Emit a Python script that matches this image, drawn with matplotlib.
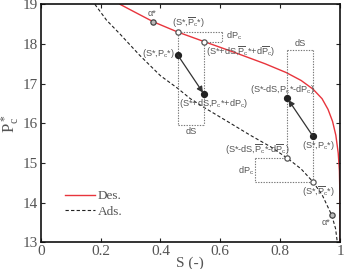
import matplotlib
matplotlib.use("Agg")
import matplotlib.pyplot as plt

# ---- data ----
des_S = [0.265, 0.30, 0.376, 0.458, 0.546, 0.65, 0.75, 0.82, 0.87, 0.91, 0.94,
         0.96, 0.975, 0.986, 0.994, 0.998, 1.0, 1.0]
des_P = [19.0, 18.86, 18.56, 18.30, 18.06, 17.78, 17.50, 17.28, 17.08, 16.86, 16.62,
         16.35, 16.05, 15.70, 15.25, 14.80, 14.0, 13.0]
ads_S = [0.181, 0.22, 0.265, 0.33, 0.40, 0.458, 0.50, 0.55, 0.621, 0.70, 0.77,
         0.824, 0.87, 0.909, 0.94, 0.972, 0.985, 0.991]
ads_P = [19.0, 18.6, 18.25, 17.72, 17.20, 16.88, 16.62, 16.38, 16.06, 15.70, 15.40,
         15.12, 14.85, 14.53, 14.20, 13.69, 13.35, 13.0]

alpha_S = [0.376, 0.972]
alpha_P = [18.56, 13.69]
open_S = [0.458, 0.546, 0.824, 0.909]
open_P = [18.30, 18.06, 15.12, 14.53]
arrow_start_S = [0.458, 0.909]
arrow_start_P = [17.72, 15.68]
arrow_end_S = [0.546, 0.824]
arrow_end_P = [16.73, 16.63]

dS_left_bottom = 15.95
dS_right_top = 17.85
dP_upper_right = 0.607
dP_lower_left = 0.716

xticks = [0, 0.2, 0.4, 0.6, 0.8, 1]
xticklabels = ["0", "0.2", "0.4", "0.6", "0.8", "1"]
yticks = [13, 14, 15, 16, 17, 18, 19]

fig = plt.figure(figsize=(3.46, 2.69), dpi=100)
ax = fig.add_axes([0.1176, 0.0993, 0.8651, 0.8847])

red = "#e8343c"
gray = "#555555"
dot = dict(color="#777777", lw=0.8, ls=(0, (1.2, 1.2)))

ax.plot(des_S, des_P, color=red, lw=1.0, label="Des.")
ax.plot(ads_S, ads_P, color="#222222", lw=0.8, ls=(0, (3, 2)), label="Ads.")

# dotted construction lines
ax.plot([open_S[0], open_S[0]], [open_P[0], dS_left_bottom], **dot)
ax.plot([open_S[1], open_S[1]], [open_P[1], dS_left_bottom], **dot)
ax.plot([open_S[0], open_S[1]], [dS_left_bottom, dS_left_bottom], **dot)
ax.plot([open_S[0], dP_upper_right], [open_P[0], open_P[0]], **dot)
ax.plot([dP_upper_right, dP_upper_right], [open_P[0], open_P[1]], **dot)
ax.plot([open_S[1], dP_upper_right], [open_P[1], open_P[1]], **dot)
ax.plot([open_S[2], open_S[2]], [dS_right_top, open_P[2]], **dot)
ax.plot([open_S[3], open_S[3]], [dS_right_top, open_P[3]], **dot)
ax.plot([open_S[2], open_S[3]], [dS_right_top, dS_right_top], **dot)
ax.plot([dP_lower_left, open_S[2]], [open_P[2], open_P[2]], **dot)
ax.plot([dP_lower_left, dP_lower_left], [open_P[2], open_P[3]], **dot)
ax.plot([dP_lower_left, open_S[3]], [open_P[3], open_P[3]], **dot)

# arrows
for xs, ys, xe, ye in zip(arrow_start_S, arrow_start_P, arrow_end_S, arrow_end_P):
    ax.annotate("", xy=(xe, ye), xytext=(xs, ys),
                arrowprops=dict(arrowstyle="-|>,head_length=0.35,head_width=0.18",
                                color="#333333", lw=0.9, shrinkA=0, shrinkB=1.5))
    ax.plot([xs, xe], [ys, ye], ls="none", marker="o", ms=4.2, color="#222222")

ax.plot(open_S, open_P, ls="none", marker="o", ms=3.8, mfc="white", mec=gray, mew=0.9)
ax.plot(alpha_S, alpha_P, ls="none", marker="o", ms=3.8, mfc="#bbbbbb", mec="#444444", mew=0.9)

# annotations
tfont = dict(family="Liberation Sans", size=6.6, color=gray, ha="center", va="center")
Pc = r"P$_\mathregular{c}$"
Pb = r"$\mathregular{\overline{P}_c}$"
dPb = r"d$\mathregular{\overline{P}_c}$"
ax.text(0.371, 18.78, "α*", **tfont)
ax.text(0.953, 13.50, "α*", **tfont)
ax.text(0.493, 18.54, "(S*," + Pb + "*)", **tfont)
ax.text(0.668, 17.81, "(S*+dS," + Pb + "*+" + dPb + ")", **tfont)
ax.text(0.645, 18.21, "d" + Pc, **tfont)
ax.text(0.393, 17.76, "(S*," + Pc + "*)", **tfont)
ax.text(0.577, 16.50, "(S*+dS," + Pc + "*+d" + Pc + ")", **tfont)
ax.text(0.504, 15.79, "dS", **tfont)
ax.text(0.866, 18.00, "dS", **tfont)
ax.text(0.808, 16.86, "(S*-dS," + Pc + "*-d" + Pc + ")", **tfont)
ax.text(0.928, 15.44, "(S*," + Pc + "*)", **tfont)
ax.text(0.724, 15.34, "(S*-dS," + Pb + "*-" + dPb + ")", **tfont)
ax.text(0.686, 14.81, "d" + Pc, **tfont)
ax.text(0.928, 14.28, "(S*," + Pb + "*)", **tfont)

ax.set_xlim(0, 1)
ax.set_ylim(13, 19)
ax.set_xticks(xticks)
ax.set_xticklabels(xticklabels)
ax.set_yticks(yticks)
ax.tick_params(direction="in", top=True, right=True, length=3, width=0.8,
               labelsize=11, pad=2, colors="#222222")
for lab in ax.get_xticklabels() + ax.get_yticklabels():
    lab.set_family("Liberation Serif")
    lab.set_color("#555555")
for sp in ax.spines.values():
    sp.set_linewidth(1.2)
    sp.set_color("#111111")

ax.set_xlabel("S (-)", family="Liberation Serif", size=11, color="#555555", labelpad=-1)
ax.set_ylabel(r"$\mathregular{P^*_c}$", family="Liberation Serif", size=12,
              color="#555555", labelpad=1)

leg = ax.legend(loc="upper left", bbox_to_anchor=(0.04, 0.27), frameon=False,
                handlelength=2.3, handletextpad=0.2, labelspacing=0.25,
                prop=dict(family="Liberation Serif", size=9.5))
for t in leg.get_texts():
    t.set_color("#555555")

fig.savefig("out.png", dpi=100)
